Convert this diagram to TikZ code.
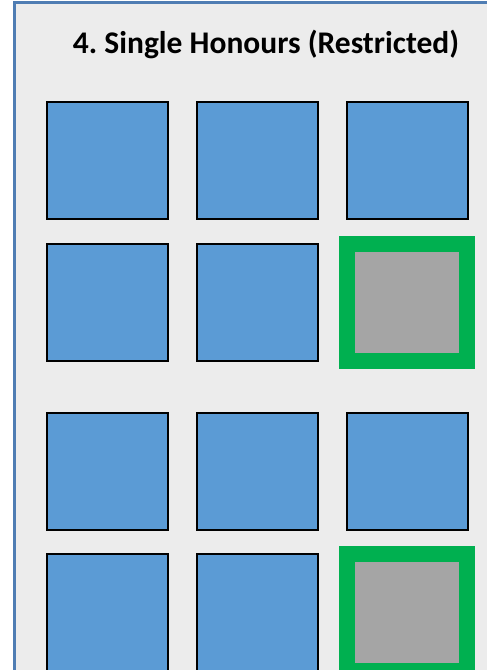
\documentclass[tikz,border=0pt]{standalone}
\usepackage{fontspec}
\setmainfont{Carlito}
\frenchspacing
\definecolor{panelgray}{HTML}{ECECEC}
\definecolor{panelblue}{HTML}{4F7DB3}
\definecolor{boxblue}{HTML}{5B9BD5}
\definecolor{boxgreen}{HTML}{00B050}
\definecolor{boxgray}{HTML}{A5A5A5}
\begin{document}
\begin{tikzpicture}[x=1pt,y=-1pt,
  module/.style={fill=boxblue,draw=black,line width=2.5pt},
  dropped/.style={fill=boxgray,draw=boxgreen,line width=16pt}]
  \useasboundingbox (0,0) rectangle (487,670);
  \begin{scope}
    \clip (0,0) rectangle (487,670);
    \fill[panelgray] (14,2) rectangle (495,680);
    \draw[panelblue,line width=3pt] (14,680) -- (14,2) -- (495,2);
    \node[anchor=base,font=\bfseries\fontsize{31.5}{36}\selectfont] (title) at (266,53) {4. Single Honours (Restricted)};
    % blocks of modules
    \foreach \y in {102,244,413,554}
      \foreach \x in {47,197}
        \draw[module] (\x,\y) rectangle ++(121,117);
    \foreach \y in {102,413}
      \draw[module] (347,\y) rectangle ++(121,117);
    \foreach \y in {244,554}
      \draw[dropped] (347,\y) rectangle ++(120,117);
  \end{scope}
\end{tikzpicture}
\end{document}
